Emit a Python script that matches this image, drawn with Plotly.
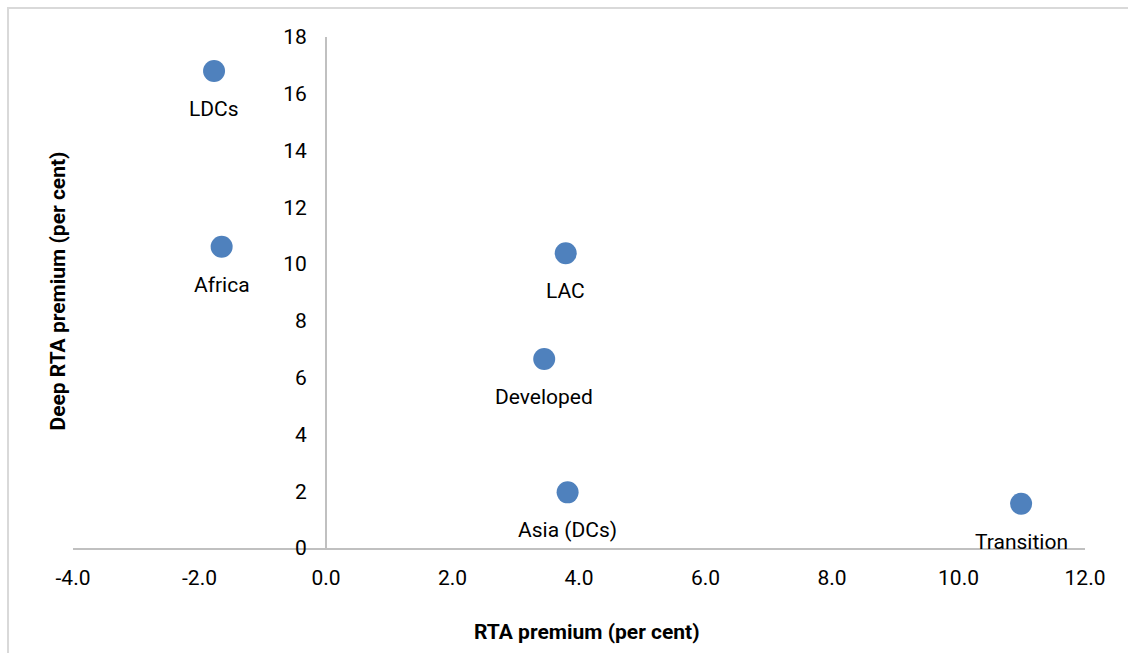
import plotly.graph_objects as go

# Regional premiums (per cent)
regions = ["LDCs", "Africa", "LAC", "Developed", "Asia (DCs)", "Transition"]
rta_premium = [-1.77, -1.65, 3.79, 3.45, 3.82, 10.99]
deep_rta_premium = [16.80, 10.61, 10.38, 6.66, 1.96, 1.56]

x_ticks = [-4, -2, 0, 2, 4, 6, 8, 10, 12]
x_tick_labels = ["-4.0", "-2.0", "0.0", "2.0", "4.0", "6.0", "8.0", "10.0", "12.0"]
y_ticks = [0, 2, 4, 6, 8, 10, 12, 14, 16, 18]

FONT = "Roboto, Arial, sans-serif"
AXIS_GREY = "#c0c0c0"

fig = go.Figure()
fig.add_trace(go.Scatter(
    x=rta_premium,
    y=deep_rta_premium,
    mode="markers",
    marker=dict(size=22, color="#4f81bd", line=dict(width=0)),
    hoverinfo="skip",
    showlegend=False,
))

# Point labels sit just under each marker
annotations = [
    dict(x=x, y=y, text=name, xref="x", yref="y", showarrow=False,
         yshift=-38, font=dict(family=FONT, size=21, color="#000000"))
    for name, x, y in zip(regions, rta_premium, deep_rta_premium)
]
annotations += [
    dict(x=0.508, y=-0.164, xref="paper", yref="paper", showarrow=False,
         xanchor="center", yanchor="middle",
         text="<b>RTA premium (per cent)</b>",
         font=dict(family=FONT, size=21, color="#000000")),
    dict(x=-0.0148, y=0.502, xref="paper", yref="paper", showarrow=False,
         xanchor="center", yanchor="middle",
         text="<b>Deep RTA premium (per cent)</b>", textangle=-90,
         font=dict(family=FONT, size=21, color="#000000")),
]

fig.update_layout(
    width=1128,
    height=653,
    margin=dict(l=73, r=43, t=37, b=105),
    paper_bgcolor="white",
    plot_bgcolor="white",
    font=dict(family=FONT, size=21, color="#000000"),
    annotations=annotations,
    shapes=[dict(type="rect", xref="paper", yref="paper",
                 x0=-0.0642, x1=1.05, y0=-0.25, y1=1.0568,
                 line=dict(color="#d9d9d9", width=2), layer="below")],
    xaxis=dict(
        range=[-4, 12],
        tickvals=x_ticks,
        ticktext=x_tick_labels,
        showgrid=False,
        zeroline=False,
        showline=True,
        linecolor=AXIS_GREY,
        linewidth=2,
        ticks="",
        ticklabelstandoff=10,
        tickfont=dict(family=FONT, size=21),
    ),
    yaxis=dict(
        range=[0, 18],
        tickvals=y_ticks,
        showgrid=False,
        zeroline=False,
        showline=True,
        linecolor=AXIS_GREY,
        linewidth=2,
        ticks="",
        anchor="free",
        position=0.25,
        ticklabelstandoff=14,
        tickfont=dict(family=FONT, size=21),
    ),
)

fig.write_html("out.html")
